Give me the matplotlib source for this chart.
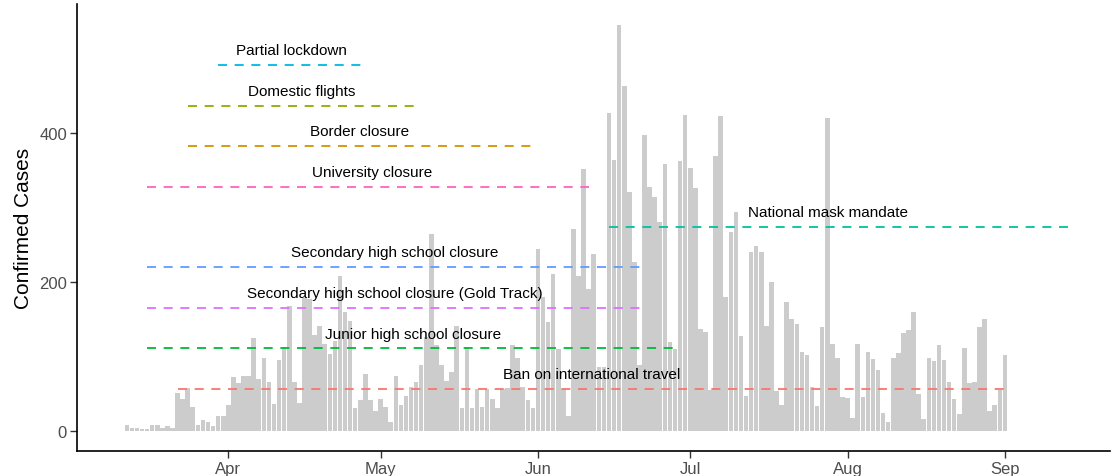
import numpy as np
import pandas as pd
import matplotlib
matplotlib.use("Agg")
import matplotlib.pyplot as plt
import matplotlib.dates as mdates

plt.rcParams['font.family'] = ['Liberation Sans', 'DejaVu Sans']
plt.rcParams['lines.scale_dashes'] = False

# ---- data ----
start_date = "2020-03-12"
cases = [
    # Mar 12 - Mar 31
    7, 3, 3, 2, 2, 7, 8, 4, 6, 4, 50, 43, 57, 32, 7, 14, 12, 6, 20, 20,
    # Apr 1 - Apr 15
    35, 72, 64, 73, 73, 124, 70, 97, 65, 36, 95, 112, 168, 66, 37,
    # Apr 16 - Apr 30
    178, 177, 128, 141, 117, 103, 121, 208, 160, 147, 30, 41, 76, 41, 27,
    # May 1 - May 31
    43, 32, 12, 74, 34, 47, 59, 66, 88, 126, 264, 115, 88, 67, 79, 141, 30,
    112, 30, 56, 32, 56, 43, 30, 56, 57, 115, 97, 59, 41, 30,
    # Jun 1 - Jun 7
    244, 180, 146, 211, 110, 56, 20,
    # Jun 8 - Jun 26
    271, 208, 352, 191, 238, 86, 86, 427, 364, 545, 463, 321, 227, 88, 397,
    327, 314, 281, 358,
    # Jun 27 - Jul 30
    119, 110, 363, 424, 353, 326, 137, 133, 55, 369, 423, 180, 267, 294, 127,
    47, 240, 248, 240, 141, 200, 53, 35, 173, 150, 143, 106, 102, 58, 33,
    139, 420, 117, 97,
    # Jul 31 - Sep 1
    45, 44, 17, 117, 45, 106, 96, 82, 24, 12, 97, 104, 131, 135, 160, 49, 16,
    97, 93, 115, 95, 66, 42, 23, 111, 64, 65, 139, 150, 26, 35, 55, 102,
]

interventions = [
    "Partial lockdown", "Domestic flights", "Border closure",
    "University closure", "Secondary high school closure",
    "Secondary high school closure (Gold Track)",
    "Junior high school closure", "Ban on international travel",
    "National mask mandate",
]
int_start = ["2020-03-30", "2020-03-24", "2020-03-24", "2020-03-16",
             "2020-03-16", "2020-03-16", "2020-03-16", "2020-03-22",
             "2020-06-15"]
int_end = ["2020-04-28", "2020-05-08", "2020-05-31", "2020-06-11",
           "2020-06-22", "2020-06-22", "2020-06-29", "2020-09-01",
           "2020-09-14"]
int_level = [492, 437, 383, 328, 220, 165, 111, 56, 274]
label_date = ["2020-04-13 12:00", "2020-04-15 12:00", "2020-04-26 22:00",
              "2020-04-29 08:00", "2020-05-03 20:00", "2020-05-03 20:00",
              "2020-05-07 10:00", "2020-06-11 14:00", "2020-07-28 02:00"]
int_color = ["#00B9E3", "#93AA00", "#D39200", "#FF61C3", "#619CFF",
             "#DB72FB", "#00BA38", "#F8766D", "#00C19F"]

month_ticks = ["2020-04-01", "2020-05-01", "2020-06-01", "2020-07-01",
               "2020-08-01", "2020-09-01"]

# ---- figure ----
W, H, DPI = 1114, 477, 100
fig = plt.figure(figsize=(W / DPI, H / DPI), dpi=DPI)
ax = fig.add_axes([77.3 / W, 25.3 / H, (1110 - 77.3) / W, (477 - 25.3 - 5) / H])

dates = pd.date_range(start_date, periods=len(cases), freq="D")
ax.bar(dates, cases, width=0.9, color="#CCCCCC", linewidth=0, zorder=1)

for name, s, e, lvl, ld, c in zip(interventions, int_start, int_end,
                                  int_level, label_date, int_color):
    ax.plot([pd.Timestamp(s), pd.Timestamp(e)], [lvl, lvl], color=c,
            linewidth=1.3, linestyle=(0, (6.5, 5.5)), zorder=2)
    ax.text(pd.Timestamp(ld), lvl + 19.5, name, ha="center", va="center",
            fontsize=11, color="black", zorder=3)

x0 = pd.Timestamp("2020-03-01")
ax.set_xlim(x0 + pd.Timedelta(days=1.25), x0 + pd.Timedelta(days=204.7))
ax.set_ylim(-27, 573.5)

ax.set_xticks([pd.Timestamp(t) for t in month_ticks])
ax.xaxis.set_major_formatter(mdates.DateFormatter("%b"))
ax.set_yticks([0, 200, 400])

for side in ["top", "right"]:
    ax.spines[side].set_visible(False)
for side in ["left", "bottom"]:
    ax.spines[side].set_linewidth(1.2)
    ax.spines[side].set_color("black")

ax.tick_params(axis="both", length=5, width=1, color="#333333",
               labelsize=12, labelcolor="#4D4D4D", pad=2.5)
ax.set_ylabel("Confirmed Cases", fontsize=15, color="black", labelpad=4)

fig.savefig("out.png", dpi=DPI)
